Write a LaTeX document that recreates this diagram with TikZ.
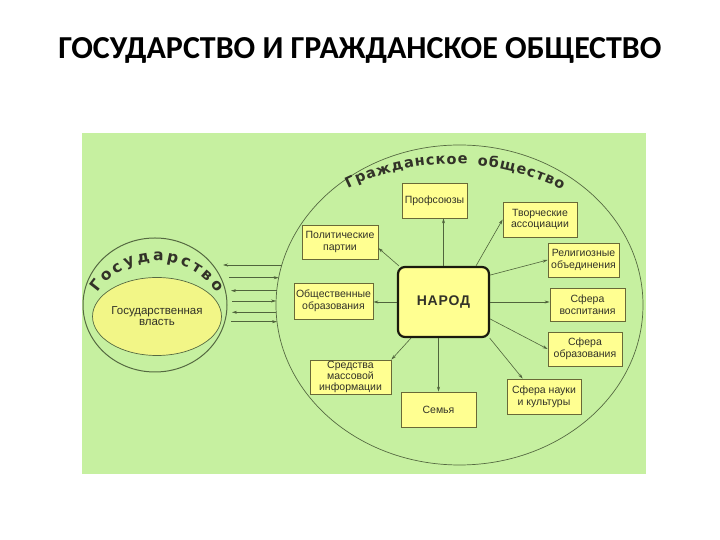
\documentclass[tikz,border=0pt]{standalone}
\usepackage{fontspec}
\setmainfont{Liberation Sans}
\newfontfamily\titlefont{Carlito}
\newfontfamily\arcfont{DejaVu Sans}
\usetikzlibrary{arrows.meta,decorations.text,shapes.geometric,calc}
\definecolor{bggreen}{RGB}{198,240,160}
\definecolor{boxfill}{RGB}{255,255,145}
\definecolor{boxline}{RGB}{105,105,55}
\definecolor{linecol}{RGB}{80,100,60}
\definecolor{ringcol}{RGB}{85,105,65}
\definecolor{innerfill}{RGB}{242,246,135}
\definecolor{txt}{RGB}{50,50,40}
\begin{document}
\begin{tikzpicture}[x=1pt,y=1pt,
  box/.style={draw=boxline, fill=boxfill, line width=0.8pt, inner sep=0pt, align=center,
    font=\fontsize{10.5}{11.8}\selectfont, text=txt},
  arr/.style={draw=linecol, line width=0.6pt, -{Stealth[length=5pt,width=3pt]}},
  ring/.style={ellipse, draw=ringcol, inner sep=0pt},
]
\useasboundingbox (0,0) rectangle (720,540);
\node[font=\titlefont\bfseries\fontsize{32}{32}\selectfont] (title) at (360,490) {ГОСУДАРСТВО И ГРАЖДАНСКОЕ ОБЩЕСТВО};
\fill[bggreen] (82,66) rectangle (646,407);

% state
\node[ring, line width=1pt, minimum width=144pt, minimum height=134pt] (state) at (155,235) {};
\node[ring, line width=0.7pt, fill=innerfill, minimum width=110pt, minimum height=78pt, align=center,
  font=\fontsize{11.5}{11}\selectfont, text=txt] (power) at (157,223.5) {Государственная\\власть};
\path[decorate, decoration={text along path, text color=txt,
  text={|\arcfont\bfseries\fontsize{15.5}{15.5}\selectfont|Государство}, text align={fit to path}}]
  (157,207) ++(146:72) arc[start angle=146, end angle=34, radius=72];

% society
\node[ring, line width=0.7pt, minimum width=367pt, minimum height=320pt] (society) at (459.5,235) {};
\path[decorate, decoration={text along path, text color=txt,
  text={|\arcfont\bfseries\fontsize{14.5}{14.5}\selectfont|Гражданское{\hspace{8pt}}общество}, text align={fit to path}}]
  (453,136) ++(116:240) arc[start angle=116, end angle=63, radius=240];

% state <-> society arrows
\foreach \yy/\xl/\xr/\dir in {275/223/281.9/1, 262.3/229/278.7/0, 249.3/231/276.8/1,
                               239/232/276.1/0, 227.7/232/276.2/1, 218.3/231/277/0}{
  \ifnum\dir=1
    \draw[arr] (\xr,\yy) -- (\xl,\yy);
  \else
    \draw[arr] (\xl,\yy) -- (\xr,\yy);
  \fi
}

% boxes
\node[draw=black!75!boxline, fill=boxfill, line width=2.2pt, rounded corners=7pt, minimum width=91pt,
  minimum height=70pt, inner sep=0pt, font=\bfseries\fontsize{14}{14}\selectfont\addfontfeature{LetterSpace=6}, text=txt] (narod) at (443.5,238) {НАРОД};
\node[box, minimum width=65pt, minimum height=35pt] (prof) at (434.5,339.5) {Профсоюзы};
\node[box, minimum width=74pt, minimum height=35pt] (tvor) at (540,320.5) {Творческие\\ассоциации};
\node[box, minimum width=71pt, minimum height=34pt] (relig) at (583.5,280) {Религиозные\\объединения};
\node[box, minimum width=75pt, minimum height=33pt] (vosp) at (587.5,235.5) {Сфера\\воспитания};
\node[box, minimum width=74pt, minimum height=34pt] (obraz) at (585,191) {Сфера\\образования};
\node[box, minimum width=74pt, minimum height=35pt] (nauka) at (544,143.5) {Сфера науки\\и культуры};
\node[box, minimum width=75pt, minimum height=35pt] (semya) at (438.5,130.5) {Семья};
\node[box, minimum width=81pt, minimum height=34pt, font=\fontsize{10.5}{10.8}\selectfont] (smi) at (350.5,163) {Средства\\массовой\\информации};
\node[box, minimum width=79pt, minimum height=36pt] (obsh) at (333.5,239) {Общественные\\образования};
\node[box, minimum width=76pt, minimum height=34pt] (polit) at (340,298) {Политические\\партии};

% arrows from narod
\draw[arr] (narod.north) -- (narod.north |- prof.south);
\draw[arr] (narod.48) -- (tvor.west);
\draw[arr] (narod.30) -- (relig.west);
\draw[arr] (narod.east) -- (narod.east -| vosp.west);
\draw[arr] (narod.-20) -- (obraz.west);
\draw[arr] (narod.-38) -- (nauka.140);
\draw[arr] (semya.north |- narod.south) -- (semya.north);
\draw[arr] (narod.228) -- (smi.north east);
\draw[arr] (narod.west) -- (narod.west -| obsh.east);
\draw[arr] (narod.141) -- (polit.-9);
\end{tikzpicture}
\end{document}
